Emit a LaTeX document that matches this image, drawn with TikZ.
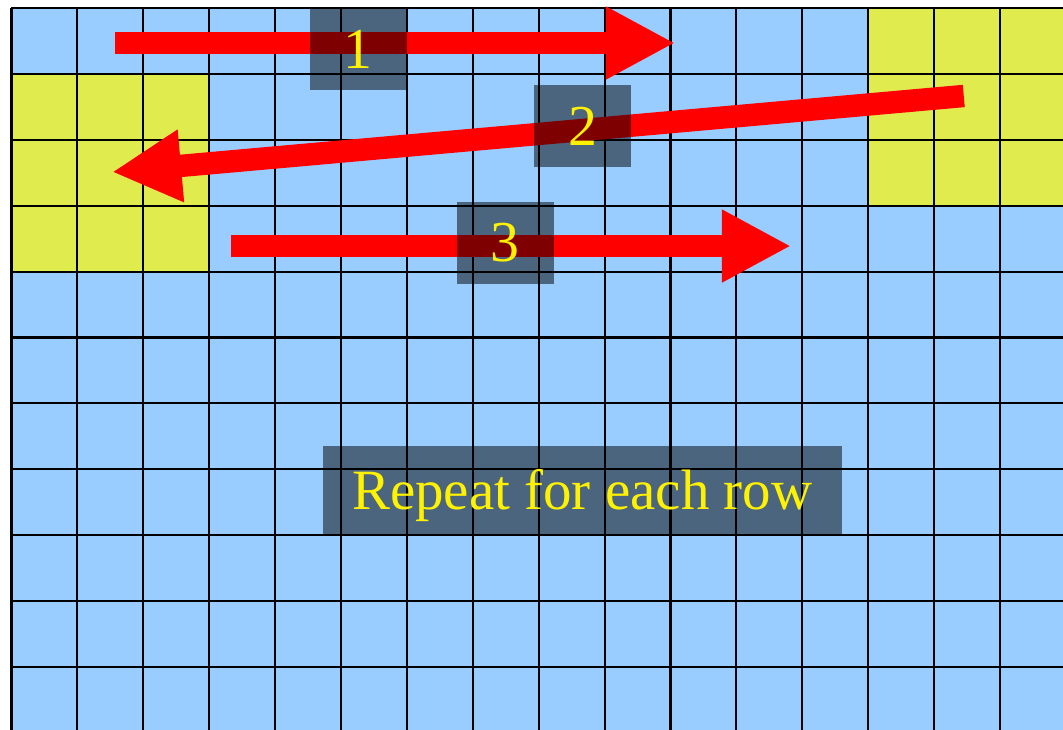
\documentclass[tikz,border=0pt]{standalone}
\usepackage{fontspec}
\newfontfamily\tagfont{LiberationSerif-Regular.ttf}
\usetikzlibrary{
    arrows.meta
}
\definecolor{cellblue}{RGB}{153,204,255}
\definecolor{cellyellow}{RGB}{224,236,77}

\begin{document}
\begin{tikzpicture}[x=1cm, y=1cm,
    >={Triangle[length=1.05cm, width=1.03cm]},
    gridline/.style={line width=0.9pt, black},
    sweep/.style={->, red, line width=0.34cm},
    tag/.style={fill=black, fill opacity=0.5, text opacity=1, text=yellow,
        font=\tagfont\fontsize{25}{30}\selectfont, inner sep=0pt,
        minimum width=1.47cm, minimum height=1.245cm}]
    \useasboundingbox (-0.1745,-10.955) rectangle (15.956,0.1214);
    \clip (-0.1745,-10.955) rectangle (15.956,0.1214);
    % cells of the image
    \fill[cellblue] (0,-11) rectangle (16,0);
    \fill[cellyellow] (0,-4) rectangle (3,-1);
    \fill[cellyellow] (13,-3) rectangle (16,0);
    \draw[gridline] (0,-11) grid (16,0);
    % scan order
    \coordinate (s1) at (1.571,-0.531);
    \coordinate (e1) at (10.07,-0.531);
    \coordinate (s2) at (14.45,-1.335);
    \coordinate (e2) at (1.525,-2.489);
    \coordinate (s3) at (3.331,-3.612);
    \coordinate (e3) at (11.83,-3.612);
    \draw[sweep] (s1) -- (e1);
    \draw[sweep] (s2) -- (e2);
    \draw[sweep] (s3) -- (e3);
    % step labels
    \node[tag] (n1) at (5.265,-0.622) {1};
    \node[tag] (n2) at (8.665,-1.79) {2};
    \node[tag] (n3) at (7.495,-3.566) {3};
    \node[tag, font=\tagfont\fontsize{24.6}{30}\selectfont, text depth=0pt,
        minimum width=7.87cm, minimum height=1.335cm]
        (repeat) at (8.66,-7.31) {Repeat for each row};
\end{tikzpicture}
\end{document}
